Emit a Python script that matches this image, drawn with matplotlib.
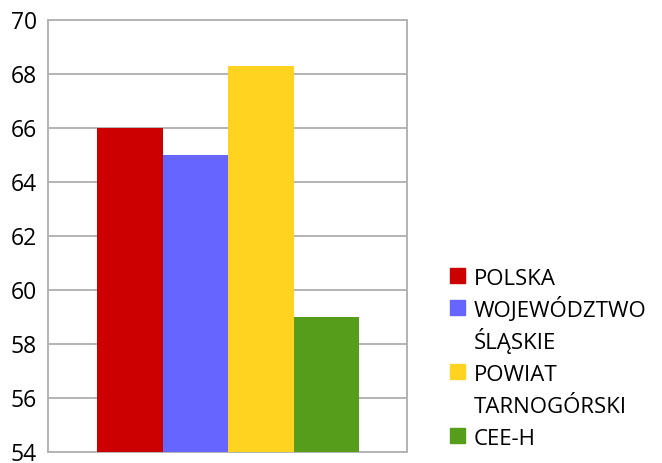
import matplotlib.pyplot as plt
from matplotlib.patches import Rectangle

plt.rcParams['font.family'] = ['Open Sans', 'DejaVu Sans']

labels = ["POLSKA", "WOJEWÓDZTWO\nŚLĄSKIE", "POWIAT\nTARNOGÓRSKI", "CEE-H"]
values = [66.0, 65.0, 68.3, 59.0]
colors = ["#cc0000", "#6666ff", "#ffd320", "#579d1c"]
yticks = [54, 56, 58, 60, 62, 64, 66, 68, 70]

W, H = 662, 463
fig = plt.figure(figsize=(W / 100, H / 100), dpi=100)
ax = fig.add_axes([0.0725, 0.0238, 0.5423, 0.933])

xs = list(range(len(values)))
ax.bar(xs, values, width=1.0, color=colors, zorder=3)
ax.set_ylim(54, 70)
ax.set_xlim(-1.25, 4.23)
ax.set_yticks(yticks)
ax.set_xticks([])
ax.yaxis.grid(True, color="#b3b3b3", linewidth=1.4, zorder=0)
for s in ax.spines.values():
    s.set_color("#b3b3b3")
    s.set_linewidth(1.4)
ax.tick_params(axis="y", length=0, labelsize=16.5, pad=8)

# legend drawn by hand: one text line every 32 px, swatch on the first line
base = 285
for lab, col in zip(labels, colors):
    fig.patches.append(Rectangle((450 / W, 1 - (base - 2) / H), 15 / W, 15 / H,
                                 transform=fig.transFigure, color=col, figure=fig))
    for line in lab.split("\n"):
        fig.text(474 / W, 1 - base / H, line, fontsize=16, va="baseline", ha="left")
        base += 32

fig.savefig("out.png", dpi=100)
